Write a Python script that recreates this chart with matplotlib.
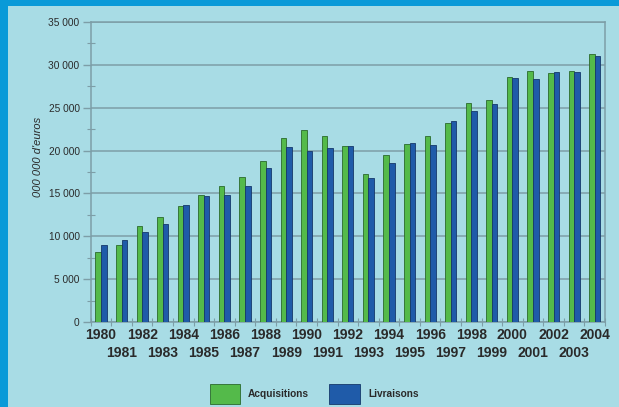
import matplotlib
matplotlib.use("Agg")
import matplotlib.pyplot as plt
import numpy as np
from matplotlib.patches import Rectangle

years = list(range(1980, 2005))
acquisitions = [8220, 8970, 11190, 12200, 13570, 14820, 15830, 16960, 18790, 21480,
                22350, 21720, 20580, 17270, 19450, 20710, 21680, 23200, 25500, 25890,
                28630, 29330, 29070, 29330, 31320]
livraisons = [9040, 9550, 10490, 11380, 13600, 14660, 14820, 15830, 18010, 20430,
              19920, 20270, 20500, 16840, 18560, 20870, 20600, 23400, 24650, 25390,
              28480, 28330, 29180, 29220, 31020]
series_labels = ["Acquisitions", "Livraisons"]
y_label = "000 000 d'euros"
y_ticks = [0, 5000, 10000, 15000, 20000, 25000, 30000, 35000]

BG = "#a8dce5"
BORDER = "#0a9ad8"
GREEN = "#54ba4a"
GREEN_EDGE = "#2b6a2c"
BLUE = "#1f5ba9"
BLUE_EDGE = "#15386a"
GRID = "#7d9ea7"
TXT = "#2a2a2a"

plt.rcParams['font.family'] = ['Liberation Sans', 'DejaVu Sans']

fig = plt.figure(figsize=(6.19, 4.07), dpi=100, facecolor=BG)
W, H = 619, 407
fig.patches.append(Rectangle((0, 1 - 6 / H), 1, 6 / H, transform=fig.transFigure,
                             facecolor=BORDER, edgecolor='none', zorder=0))
fig.patches.append(Rectangle((0, 0), 8 / W, 1, transform=fig.transFigure,
                             facecolor=BORDER, edgecolor='none', zorder=0))

ax = fig.add_axes([90.7 / W, (H - 322) / H, (605 - 90.7) / W, 300 / H])
ax.set_facecolor(BG)

x = np.arange(len(years))
bw = 0.27
ax.bar(x - bw / 2, acquisitions, bw, color=GREEN, edgecolor=GREEN_EDGE, linewidth=0.6,
       label=series_labels[0], zorder=3)
ax.bar(x + bw / 2, livraisons, bw, color=BLUE, edgecolor=BLUE_EDGE, linewidth=0.6,
       label=series_labels[1], zorder=3)

ax.set_xlim(-0.5, len(years) - 0.5)
ax.set_ylim(0, 35000)

ax.set_yticks(y_ticks)
ax.set_yticklabels([f"{v:,}".replace(",", " ") for v in y_ticks], fontsize=7.3, color=TXT)
ax.set_yticks(np.arange(2500, 35000, 5000), minor=True)
ax.tick_params(axis='y', which='major', length=6, color=GRID, width=1.0, pad=2, direction='out')
ax.tick_params(axis='y', which='minor', length=6, color=GRID, width=0.8, direction='inout')
ax.grid(axis='y', which='major', color=GRID, linewidth=1.1, zorder=1)

even = x[::2]
odd = x[1::2]
ax.set_xticks(even)
ax.set_xticklabels([str(years[i]) for i in even], fontsize=10, fontweight='bold', color=TXT)
ax.set_xticks(np.arange(-0.5, len(years), 1.0), minor=True)
ax.tick_params(axis='x', which='major', length=0, pad=4)
ax.tick_params(axis='x', which='minor', length=6, color=GRID, width=0.8, direction='inout')

sec = ax.secondary_xaxis('bottom')
sec.set_xticks(odd)
sec.set_xticklabels([str(years[i]) for i in odd], fontsize=10, fontweight='bold', color=TXT)
sec.tick_params(axis='x', length=0, pad=17)
sec.spines['bottom'].set_visible(False)

for s in ax.spines.values():
    s.set_color(GRID)
    s.set_linewidth(1.1)

ax.set_ylabel(y_label, fontsize=8, style='italic', color=TXT, labelpad=0)
ax.yaxis.set_label_coords(-(90.7 - 42.7) / (605 - 90.7), (322 - 157) / 300)

leg = fig.legend(loc='upper center', bbox_to_anchor=(314 / W, (H - 377) / H), ncol=2,
                 frameon=False, prop={'size': 7.3, 'weight': 'bold'},
                 handlelength=3.0, handleheight=2.6, columnspacing=2.0, handletextpad=0.8,
                 borderpad=0.2)
for t in leg.get_texts():
    t.set_color(TXT)

fig.savefig("out.png", dpi=100, facecolor=BG)
